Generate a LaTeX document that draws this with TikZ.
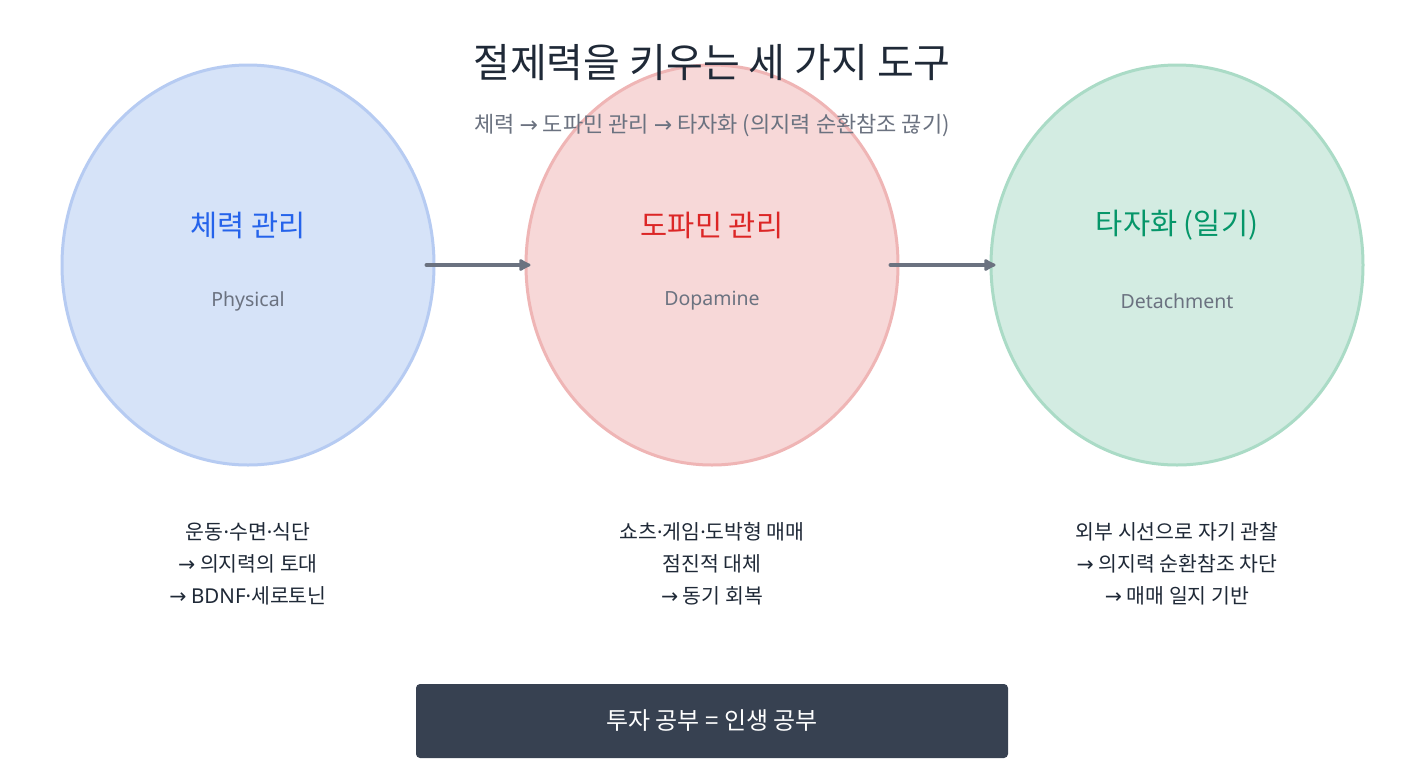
\documentclass[tikz,border=0pt]{standalone}
\usepackage{fontspec}
\setmainfont{Noto Sans CJK KR}
\newfontfamily\latf{Noto Sans}
\newfontfamily\symf{DejaVu Sans}
\newcommand{\rarr}{{\symf →}}
\newcommand{\mdot}{{\latf ·}}
\usetikzlibrary{shapes.geometric,arrows.meta}
\definecolor{bluefill}{HTML}{D6E3F8}
\definecolor{bluedraw}{HTML}{B6CBF2}
\definecolor{redfill}{HTML}{F7D8D8}
\definecolor{reddraw}{HTML}{EFB5B5}
\definecolor{greenfill}{HTML}{D3ECE2}
\definecolor{greendraw}{HTML}{AADBC6}
\definecolor{bluetext}{HTML}{2563EB}
\definecolor{redtext}{HTML}{DC2626}
\definecolor{greentext}{HTML}{059669}
\definecolor{graytext}{HTML}{6B7280}
\definecolor{darktext}{HTML}{1F2937}
\definecolor{arrowgray}{HTML}{6B7280}
\definecolor{boxfill}{HTML}{374151}
\tikzset{
  circ/.style={ellipse, minimum width=372pt, minimum height=400pt, inner sep=0pt, line width=3pt},
  ctitle/.style={font=\fontsize{29.5}{34}\selectfont},
  csub/.style={font=\latf\fontsize{19.5}{24}\selectfont, text=graytext},
  desc/.style={font=\fontsize{20.5}{32}\selectfont, text=darktext, align=center},
  flow/.style={line width=4pt, draw=arrowgray, line cap=round, -{Latex[length=14pt,width=15pt,round]}}
}
\begin{document}
\begin{tikzpicture}[x=1pt,y=-1pt]
\useasboundingbox (0,0) rectangle (1425,780);
\fill[white] (0,0) rectangle (1425,780);
\node[circ, fill=bluefill, draw=bluedraw] (b) at (248,265) {};
\node[circ, fill=redfill, draw=reddraw] (r) at (712,265) {};
\node[circ, fill=greenfill, draw=greendraw] (g) at (1177,265) {};
\draw[flow] ([xshift=-9pt]b.east) -- ([xshift=6pt]r.west);
\draw[flow] ([xshift=-9pt]r.east) -- ([xshift=6pt]g.west);
\node[font=\fontsize{40}{46}\selectfont, text=darktext] (title) at (712,63) {절제력을 키우는 세 가지 도구};
\node[font=\fontsize{22}{26}\selectfont, text=graytext] (sub) at (712,126) {체력 \rarr{} 도파민 관리 \rarr{} 타자화 (의지력 순환참조 끊기)};
\node[ctitle, text=bluetext] (bt) at (248,225) {체력 관리};
\node[csub] (bs) at (248,301) {Physical};
\node[ctitle, text=redtext] (rt) at (712,225) {도파민 관리};
\node[csub] (rs) at (712,301) {Dopamine};
\node[ctitle, text=greentext] (gt) at (1177,225) {타자화 (일기)};
\node[csub] (gs) at (1177,301) {Detachment};
\node[desc] (bd) at (248,564) {운동\mdot{}수면\mdot{}식단\\\rarr{} 의지력의 토대\\\rarr{} {\latf BDNF}\mdot{}세로토닌};
\node[desc] (rd) at (712,564) {쇼츠\mdot{}게임\mdot{}도박형 매매\\점진적 대체\\\rarr{} 동기 회복};
\node[desc] (gd) at (1177,564) {외부 시선으로 자기 관찰\\\rarr{} 의지력 순환참조 차단\\\rarr{} 매매 일지 기반};
\node[fill=boxfill, rounded corners=4pt, minimum width=592pt, minimum height=74pt, inner sep=0pt, text=white, font=\fontsize{24}{28}\selectfont] (box) at (712,721) {투자 공부 = 인생 공부};
\end{tikzpicture}
\end{document}
